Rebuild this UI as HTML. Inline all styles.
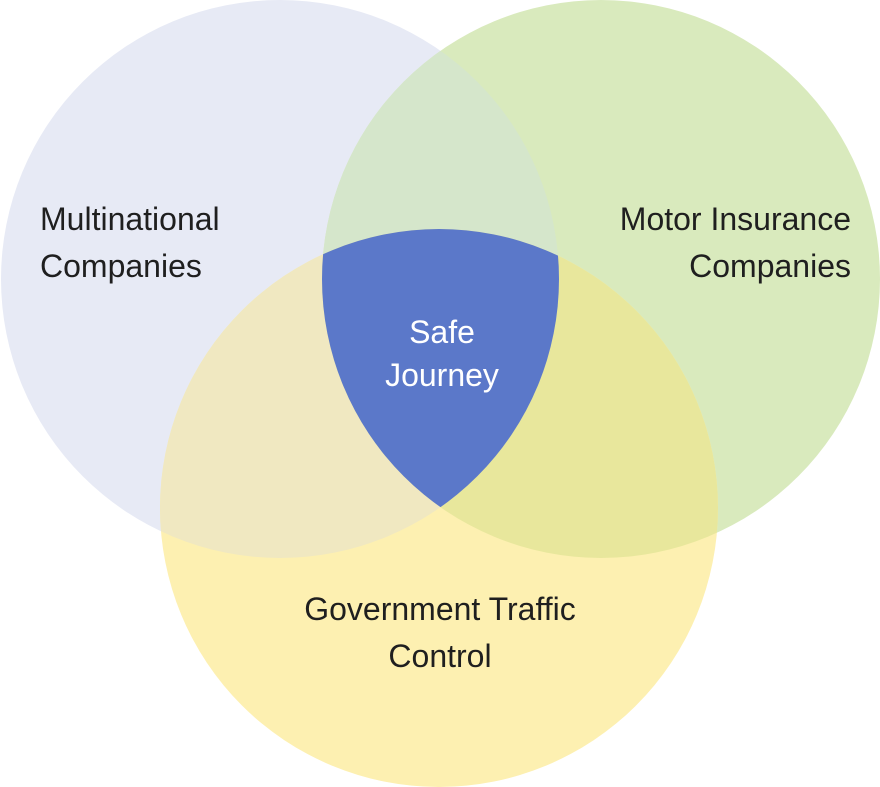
<!DOCTYPE html>
<html><head><meta charset="utf-8"><style>
html,body{margin:0;padding:0;background:#fff;}
svg{display:block;}
text{font-family:"Liberation Sans",sans-serif;font-size:32px;fill:#1f1f1f;}
</style></head><body>
<svg width="880" height="787" viewBox="0 0 880 787" xmlns="http://www.w3.org/2000/svg">
<defs>
<clipPath id="cL"><circle cx="280" cy="279" r="279"/></clipPath>
<clipPath id="cR"><circle cx="601" cy="279" r="279"/></clipPath>
<clipPath id="cB"><circle cx="439" cy="508" r="279"/></clipPath>
</defs>
<circle cx="280" cy="279" r="279" fill="#e7eaf5"/>
<circle cx="601" cy="279" r="279" fill="#d9eabd"/>
<circle cx="439" cy="508" r="279" fill="#fdf0b1"/>
<g clip-path="url(#cL)"><circle cx="601" cy="279" r="279" fill="#d5e6cb"/></g>
<g clip-path="url(#cL)"><circle cx="439" cy="508" r="279" fill="#f0e8c1"/></g>
<g clip-path="url(#cR)"><circle cx="439" cy="508" r="279" fill="#e8e79c"/></g>
<g clip-path="url(#cL)"><g clip-path="url(#cR)"><circle cx="439" cy="508" r="279" fill="#5b78c9"/></g></g>
<text x="40" y="230">Multinational</text>
<text x="40" y="277">Companies</text>
<text x="851" y="230" text-anchor="end">Motor Insurance</text>
<text x="851" y="277" text-anchor="end">Companies</text>
<text x="442" y="343" text-anchor="middle" style="fill:#fff">Safe</text>
<text x="442" y="386" text-anchor="middle" style="fill:#fff">Journey</text>
<text x="440" y="620" text-anchor="middle">Government Traffic</text>
<text x="440" y="667" text-anchor="middle">Control</text>
</svg>
</body></html>
